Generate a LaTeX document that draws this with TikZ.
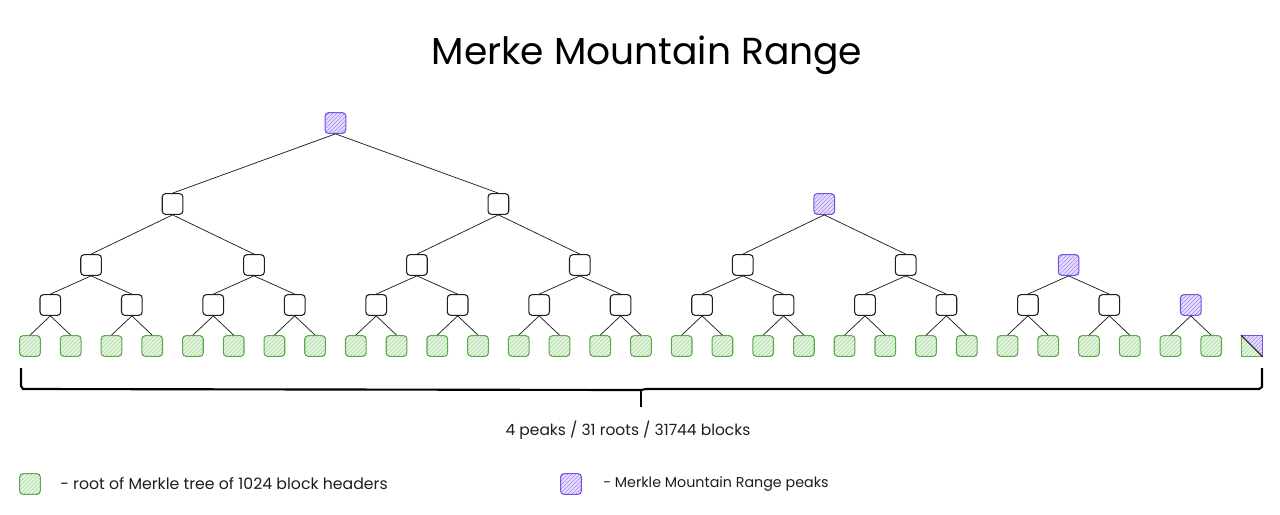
\documentclass[tikz,border=0pt]{standalone}
\usepackage{fontspec}
\setmainfont{Poppins}
\usetikzlibrary{patterns}
\definecolor{gbg}{HTML}{E6F5E2}
\definecolor{gpat}{HTML}{A6D79B}
\definecolor{gstroke}{HTML}{5CA84A}
\definecolor{pbg}{HTML}{E6DDFF}
\definecolor{ppat}{HTML}{A88BF2}
\definecolor{pstroke}{HTML}{7650DF}
\definecolor{ink}{HTML}{1E1E1E}
\tikzset{
  box/.style={draw=ink, line width=0.8pt, rounded corners=2.5pt, minimum size=15.5pt, inner sep=0pt, fill=white},
  leaf/.style={box, draw=gstroke, fill=none, preaction={fill=gbg}, pattern=north east lines, pattern color=gpat},
  peak/.style={box, draw=pstroke, fill=none, preaction={fill=pbg}, pattern=north east lines, pattern color=ppat},
  edge/.style={draw=ink, line width=0.55pt},
  brace/.style={draw=black, line width=1.6pt, line join=round},
  lbl/.style={text=ink, inner sep=0pt},
}
\begin{document}
\begin{tikzpicture}[x=0.75pt, y=-0.75pt]
\useasboundingbox (0,0) rectangle (1280,514);
% title
\node[font=\fontsize{28.2}{31}\selectfont, text=black] (title) at (647,55) {Merke Mountain Range};
% leaves
\foreach \i in {0,...,29} {
  \node[leaf] (L\i) at ({30+40.73*\i},346) {};
}
% level 1
\foreach \k in {0,...,13} {
  \node[box] (A\k) at ({30+40.73*(2*\k+0.5)},305) {};
}
\node[peak] (A14) at ({30+40.73*28.5},305) {};
% level 2
\foreach \k in {0,...,5} {
  \node[box] (B\k) at ({30+40.73*(4*\k+1.5)},265) {};
}
\node[peak] (B6) at ({30+40.73*25.5},265) {};
% level 3
\foreach \k in {0,1} {
  \node[box] (C\k) at ({30+40.73*(8*\k+3.5)},204) {};
}
\node[peak] (C2) at ({30+40.73*19.5},204) {};
% level 4
\node[peak] (D0) at ({30+40.73*7.5},123) {};
% edges
\foreach \k [evaluate=\k as \a using int(2*\k), evaluate=\k as \b using int(2*\k+1)] in {0,...,14} {
  \draw[edge] (A\k.south) -- (L\a.north);
  \draw[edge] (A\k.south) -- (L\b.north);
}
\foreach \k [evaluate=\k as \a using int(2*\k), evaluate=\k as \b using int(2*\k+1)] in {0,...,6} {
  \draw[edge] (B\k.south) -- (A\a.north);
  \draw[edge] (B\k.south) -- (A\b.north);
}
\foreach \k [evaluate=\k as \a using int(2*\k), evaluate=\k as \b using int(2*\k+1)] in {0,...,2} {
  \draw[edge] (C\k.south) -- (B\a.north);
  \draw[edge] (C\k.south) -- (B\b.north);
}
\draw[edge] (D0.south) -- (C0.north);
\draw[edge] (D0.south) -- (C1.north);
% last leaf: half root, half peak
\node[box, draw=none, fill=none] (L30) at ({30+40.73*30},346) {};
\fill[gbg] (L30.north west) -- (L30.south west) -- (L30.south east) -- cycle;
\fill[pattern=north east lines, pattern color=gpat] (L30.north west) -- (L30.south west) -- (L30.south east) -- cycle;
\fill[pbg] (L30.north west) -- (L30.north east) -- (L30.south east) -- cycle;
\fill[pattern=north east lines, pattern color=ppat] (L30.north west) -- (L30.north east) -- (L30.south east) -- cycle;
\draw[gstroke, line width=0.8pt, line join=round] (L30.north west) -- (L30.south west) -- (L30.south east);
\draw[pstroke, line width=0.8pt, line join=round] (L30.north west) -- (L30.north east) -- (L30.south east);
\draw[ink, line width=0.8pt] (L30.north west) -- (L30.south east);
% brace
\coordinate (bl) at (21,368);
\coordinate (br) at (1262,368);
\coordinate (bm) at (641,390);
\coordinate (bt) at (641,407);
\draw[brace] (bl) -- (21,386) -- (23,389) -- (636,390) -- (bm);
\draw[brace] (br) -- (1262,387) -- (1259,389) -- (646,389) -- (bm);
\draw[brace, line width=1.3pt] (bm) -- (bt);
\node[lbl, font=\fontsize{11.6}{13}\selectfont] (count) at (628,430) {4 peaks / 31 roots / 31744 blocks};
% legend
\node[leaf] (lg1) at (30,484) {};
\node[lbl, anchor=west, font=\fontsize{11.8}{13}\selectfont] (lt1) at (60,484) {- root of Merkle tree of 1024 block headers};
\node[peak] (lg2) at (571,484) {};
\node[lbl, anchor=west, font=\fontsize{10.7}{12}\selectfont] (lt2) at (603,484) {- Merkle Mountain Range peaks};
\end{tikzpicture}
\end{document}
